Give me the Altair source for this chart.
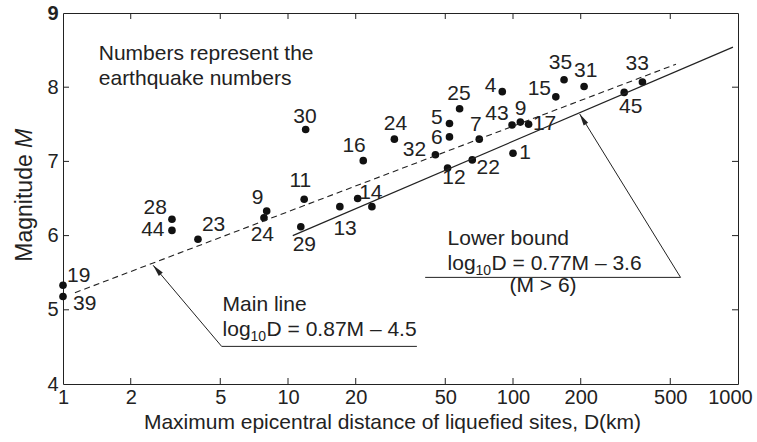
import altair as alt
import pandas as pd

# ---------------- data ----------------
# earthquake points: maximum epicentral distance D (km) and magnitude M
pt_D = [100, 89.6, 52.2, 52.2, 70.8, 8.04, 107.8, 11.8, 51.2, 17.0, 20.4, 23.6,
        155, 21.6, 117.3, 1.0, 65.9, 3.98, 7.82, 29.7, 57.9, 3.05, 11.4, 11.98,
        207, 45.2, 376, 168.6, 1.0, 99, 3.05, 312]
pt_M = [7.11, 7.94, 7.51, 7.33, 7.30, 6.33, 7.53, 6.49, 6.91, 6.39, 6.50, 6.39,
        7.87, 7.01, 7.50, 5.33, 7.02, 5.95, 6.24, 7.30, 7.71, 6.22, 6.12, 7.43,
        8.01, 7.09, 8.07, 8.10, 5.18, 7.49, 6.07, 7.93]

# earthquake-number labels (text and where it sits, in data units)
lab_text = ["30", "16", "11", "9", "28", "44", "23", "24", "29", "13", "19", "39",
            "14", "24", "32", "6", "5", "25", "7", "43", "9", "17", "4", "15",
            "35", "31", "33", "45", "12", "22", "1"]
lab_D = [11.90, 19.67, 11.34, 7.33, 2.567, 2.507, 4.67, 7.69, 11.82, 17.94, 1.175, 1.249,
         23.34, 30.03, 36.5, 45.9, 45.9, 57.5, 68.4, 84.9, 108.1, 138.2, 79.5, 130.9,
         162.4, 210.4, 356.3, 333.7, 54.6, 77.6, 113.1]
lab_M = [7.60, 7.21, 6.73, 6.51, 6.37, 6.07, 6.14, 6.01, 5.88, 6.09, 5.46, 5.08,
         6.58, 7.51, 7.15, 7.31, 7.58, 7.91, 7.49, 7.64, 7.71, 7.51, 8.01, 7.97,
         8.32, 8.22, 8.31, 7.73, 6.77, 6.91, 7.11]

# main line (dashed) and lower bound (solid) end points
main_D = [1.13, 530]
main_M = [5.23, 8.31]
low_D = [10.5, 950]
low_M = [6.0, 8.54]

# leader lines of the two annotations (data units)
main_lead_D = [37.4, 5.07, 2.515]
main_lead_M = [4.507, 4.507, 5.60]
low_lead_D = [40.7, 555.4, 197.9]
low_lead_M = [5.437, 5.437, 7.639]

x_ticks = [1, 2, 5, 10, 20, 50, 100, 200, 500, 1000]
y_ticks = [4, 5, 6, 7, 8, 9]
x_inner_ticks = [2, 5, 10, 20, 50, 100, 200, 500]
y_inner_ticks = [5, 6, 7, 8]

# ---------------- styling ----------------
W, H = 675, 371
FONT = "Liberation Sans"
INK = "#222222"
TXT = 21

xs = alt.Scale(type="log", domain=[1, 1000], nice=False)
ys = alt.Scale(domain=[4, 9], nice=False, zero=False)

x_axis = alt.Axis(
    values=x_ticks, format="d", grid=False, domain=False, tickSize=0, ticks=True,
    tickColor="transparent", labelFont=FONT, labelFontSize=20, labelColor=INK,
    labelPadding=3, labelFlush=False, labelOverlap=False,
    labelOffset={"condition": {"test": "datum.value == 1000", "value": -8}, "value": 0},
    title="Maximum epicentral distance of liquefied sites, D(km)",
    titleFont=FONT, titleFontSize=21, titleFontWeight="normal", titleColor=INK,
    titleX=329, titleY=44, titleAlign="center", titleBaseline="alphabetic",
)
y_axis = alt.Axis(
    values=y_ticks, format="d", grid=False, domain=False, tickSize=0, ticks=True,
    tickColor="transparent", labelFont=FONT, labelFontSize=20, labelColor=INK,
    labelFontWeight={"condition": {"test": "datum.value == 9", "value": "bold"},
                     "value": "normal"},
    labelPadding=5, labelFlush=False, labelOverlap=False, title="",
)


def X():
    return alt.X("D:Q", scale=xs, axis=x_axis)


def Y():
    return alt.Y("M:Q", scale=ys, axis=y_axis)


pts = pd.DataFrame({"D": pt_D, "M": pt_M})
labs = pd.DataFrame({"D": lab_D, "M": lab_M, "t": lab_text})

dots = alt.Chart(pts).mark_circle(size=58, color="#111111", opacity=1).encode(
    x=X(), y=Y())

labels = alt.Chart(labs).mark_text(
    font=FONT, fontSize=TXT, color=INK, align="center", baseline="middle"
).encode(x=X(), y=Y(), text="t:N")

main_line = alt.Chart(pd.DataFrame({"D": main_D, "M": main_M})).mark_line(
    color=INK, strokeWidth=1.1, strokeDash=[6, 4]).encode(x=X(), y=Y())
low_line = alt.Chart(pd.DataFrame({"D": low_D, "M": low_M})).mark_line(
    color=INK, strokeWidth=1.2).encode(x=X(), y=Y())

main_lead = alt.Chart(pd.DataFrame({"D": main_lead_D, "M": main_lead_M, "o": [0, 1, 2]})
                      ).mark_line(color=INK, strokeWidth=1).encode(x=X(), y=Y(), order="o:Q")
low_lead = alt.Chart(pd.DataFrame({"D": low_lead_D, "M": low_lead_M, "o": [0, 1, 2]})
                     ).mark_line(color=INK, strokeWidth=1).encode(x=X(), y=Y(), order="o:Q")

ARROW = "M0,0L-0.22,1L0.22,1Z"
main_head = alt.Chart(pd.DataFrame({"D": [main_lead_D[-1]], "M": [main_lead_M[-1]]})).mark_point(
    shape=ARROW, filled=True, size=560, color=INK, opacity=1, angle=319.5, strokeWidth=0
).encode(x=X(), y=Y())
low_head = alt.Chart(pd.DataFrame({"D": [low_lead_D[-1]], "M": [low_lead_M[-1]]})).mark_point(
    shape=ARROW, filled=True, size=560, color=INK, opacity=1, angle=328.4, strokeWidth=0
).encode(x=X(), y=Y())


def note(text, d, m, align="left", dx=0, dy=0, size=TXT):
    return alt.Chart(pd.DataFrame({"D": [d], "M": [m], "t": [text]})).mark_text(
        font=FONT, fontSize=size, color=INK, align=align, baseline="alphabetic",
        dx=dx, dy=dy).encode(x=X(), y=Y(), text="t:N")


notes = [
    note("Numbers represent the", 1.442, 8.371),
    note("earthquake numbers", 1.442, 8.034),
    note("Main line", 5.12, 4.978),
    note("log", 5.12, 4.651),
    note("10", 5.12, 4.651, dx=28, dy=5, size=14),
    note("D = 0.87M \u2013 4.5", 5.12, 4.651, dx=44),
    note("Lower bound", 51.2, 5.877),
    note("log", 51.2, 5.54),
    note("10", 51.2, 5.54, dx=28, dy=5, size=14),
    note("D = 0.77M \u2013 3.6", 51.2, 5.54, dx=44),
    note("(M > 6)", 136, 5.244, align="center"),
]

# inward tick marks on all four sides
xt = pd.DataFrame({"D": x_inner_ticks})
yt = pd.DataFrame({"M": y_inner_ticks})
tick_b = alt.Chart(xt).mark_rule(color=INK, strokeWidth=1).encode(
    x=X(), y=alt.value(H), y2=alt.value(H - 6))
tick_t = alt.Chart(xt).mark_rule(color=INK, strokeWidth=1).encode(
    x=X(), y=alt.value(0), y2=alt.value(6))
tick_l = alt.Chart(yt).mark_rule(color=INK, strokeWidth=1).encode(
    y=Y(), x=alt.value(0), x2=alt.value(6))
tick_r = alt.Chart(yt).mark_rule(color=INK, strokeWidth=1).encode(
    y=Y(), x=alt.value(W - 6), x2=alt.value(W))

# y-axis title with italic M
ytitle_a = alt.Chart(pd.DataFrame({"t": ["Magnitude"]})).mark_text(
    font=FONT, fontSize=23, color=INK, angle=270, align="left", baseline="alphabetic"
).encode(x=alt.value(-31), y=alt.value(248.7), text="t:N")
ytitle_b = alt.Chart(pd.DataFrame({"t": ["M"]})).mark_text(
    font=FONT, fontSize=23, fontStyle="italic", color=INK, angle=270, align="left",
    baseline="alphabetic"
).encode(x=alt.value(-31), y=alt.value(134.9), text="t:N")

chart = alt.layer(
    dots, main_line, low_line, main_lead, low_lead, main_head, low_head,
    tick_b, tick_t, tick_l, tick_r,
    labels, *notes, ytitle_a, ytitle_b,
).properties(
    width=W, height=H,
    padding={"left": 63, "top": 13, "right": 19, "bottom": 58},
    autosize=alt.AutoSizeParams(type="none"),
    background="white",
).configure_view(stroke=INK, strokeWidth=1)

chart.save("out.html", embed_options={"renderer": "svg", "actions": False})
